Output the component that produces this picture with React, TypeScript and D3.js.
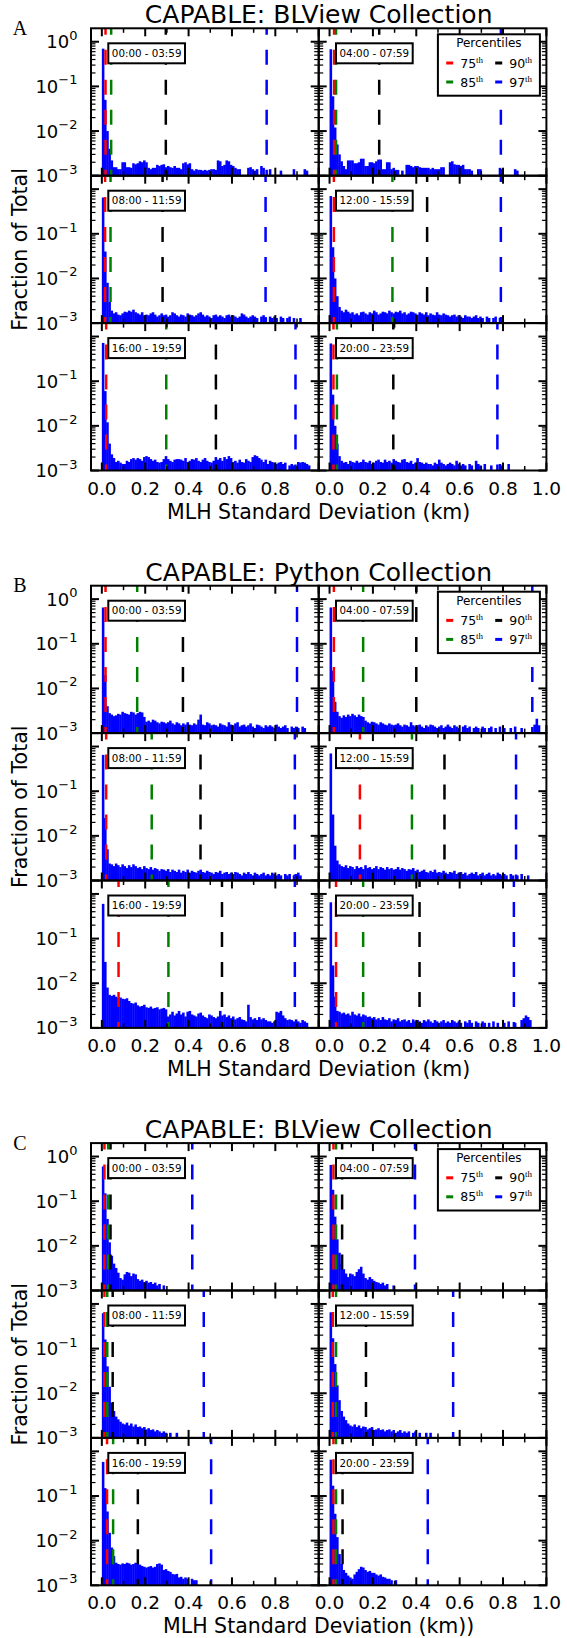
import React from "react";
import * as d3 from "d3";

// layout (px)
const FIG_W = 567;
const FIG_H = 1638;
const plotL = 91;
const plotW = 227.7;
const rowH = 147.4;
const groupTops = [28.3, 585.7, 1143.1];

const groupTitles = ["CAPABLE: BLView Collection", "CAPABLE: Python Collection", "CAPABLE: BLView Collection"];
const groupLetters = ["A", "B", "C"];
const groupXLabels = ["MLH Standard Deviation (km)", "MLH Standard Deviation (km)", "MLH Standard Deviation (km))"];
const timeLabels = ["00:00 - 03:59", "04:00 - 07:59", "08:00 - 11:59", "12:00 - 15:59", "16:00 - 19:59", "20:00 - 23:59"];

const binWidth = 0.01; // km
const percentileNames = ["75", "85", "90", "97"];
const percentileColors = ["#ff0000", "#008000", "#000000", "#0000ff"];

const xTickVals = [0, 0.2, 0.4, 0.6, 0.8, 1.0];
const xMinorVals = [0.1, 0.3, 0.5, 0.7, 0.9];
const xTickLabelsLeft = ["0.0", "0.2", "0.4", "0.6", "0.8"];
const xTickLabelsRight = ["0.0", "0.2", "0.4", "0.6", "0.8", "1.0"];
const yTickVals = [1, 1e-1, 1e-2, 1e-3];
const yTickExps = ["0", "\u22121", "\u22122", "\u22123"];

// histogram fractions, in units of 1e-3, one value per 0.01 km bin
const histA1L = [700, 50, 10, 4, 2.2, 1.55, 1.55, 1.4, 1.4, 2.0, 2.0, 1.55, 1.55, 1.5, 1.9, 1.8, 1.9, 2.1, 2.0, 2.2, 2.0, 1.5, 1.4, 1.5, 1.5, 1.75, 1.65, 1.75, 1.8, 1.55, 1.65, 1.55, 1.5, 1.65, 1.5, 1.5, 1.4, 1.9, 2.0, 1.8, 1.9, 1.4, 1.3, 1.4, 1.35, 1.35, 1.3, 1.35, 1.3, 1.35, 1.4, 1.4, 1.35, 2.2, 2.1, 1.65, 1.75, 2.2, 2.1, 1.75, 1.65, 1.5, 1.4, 1.4, 0, 0, 0, 1.5, 1.55, 1.4, 1.3, 1.4, 0, 1.65, 1.5, 0, 0, 1.4, 0, 0, 0, 0, 1.3, 0, 0, 0, 0, 0, 1.4, 0, 0, 0, 0, 1.4, 1.3];
const histA1R = [680, 60, 12, 5, 3, 2.1, 1.65, 1.4, 2.2, 2.2, 2.2, 1.9, 1.9, 2.0, 2.4, 2.4, 1.65, 1.65, 2.0, 2.0, 1.9, 2.1, 2.3, 2.3, 1.4, 1.4, 2.0, 2.0, 1.4, 1.5, 1.35, 1.35, 0, 1.3, 0, 1.75, 1.75, 1.65, 1.55, 1.65, 1.65, 1.55, 1.5, 1.5, 1.5, 1.5, 1.4, 1.5, 1.4, 1.4, 1.4, 1.55, 1.55, 0, 0, 2.0, 2.1, 1.8, 1.75, 1.75, 1.65, 1.75, 1.4, 1.4, 1.4, 1.3, 0, 0, 1.4, 1.4, 0, 0, 0, 0, 0, 0, 0, 0, 1.5, 1.4, 0, 0, 0, 0, 0, 1.4, 1.3];
const histA2L = [650, 40, 8, 3, 1.9, 1.65, 1.75, 1.55, 1.5, 1.65, 1.8, 1.75, 1.9, 1.8, 2.0, 1.75, 1.65, 1.55, 1.75, 1.5, 1.55, 1.5, 1.65, 1.75, 1.55, 1.4, 1.5, 1.65, 1.5, 1.55, 1.4, 1.5, 1.75, 1.65, 1.5, 1.4, 1.55, 1.5, 1.4, 1.65, 1.55, 1.5, 1.4, 1.5, 1.65, 1.75, 1.55, 1.4, 1.5, 1.4, 1.3, 1.5, 1.55, 1.4, 1.5, 1.4, 1.3, 1.5, 1.55, 1.4, 1.5, 1.4, 1.3, 1.4, 1.65, 1.55, 1.4, 1.3, 1.4, 1.5, 1.4, 1.3, 0, 1.4, 1.5, 1.3, 0, 1.4, 1.3, 1.4, 1.3, 0, 1.4, 1.3, 0, 1.3, 1.4, 0, 1.3, 0, 0, 1.3];
const histA2R = [700, 50, 10, 4, 2.3, 1.9, 1.75, 2.0, 1.8, 1.65, 1.75, 1.55, 1.65, 1.5, 1.75, 1.8, 1.65, 1.55, 1.75, 1.65, 1.9, 1.75, 1.55, 1.65, 1.8, 1.75, 1.65, 1.9, 1.75, 1.65, 1.8, 1.75, 1.9, 1.65, 1.75, 1.55, 1.65, 1.8, 1.75, 1.65, 1.55, 1.75, 1.65, 1.55, 1.75, 1.5, 1.65, 1.55, 1.5, 1.75, 1.55, 1.5, 1.65, 1.55, 1.5, 1.4, 1.5, 1.55, 1.4, 1.5, 1.4, 1.3, 1.5, 1.4, 1.4, 1.3, 1.4, 1.5, 1.3, 1.4, 1.3, 0, 1.4, 1.3, 0, 1.3, 1.4, 0, 1.3, 0];
const histA3L = [720, 60, 12, 4, 2.3, 1.9, 1.55, 1.65, 1.5, 1.4, 1.4, 1.65, 1.55, 1.8, 1.9, 1.75, 1.9, 1.8, 1.65, 2.0, 2.1, 2.0, 1.8, 1.65, 1.75, 1.55, 1.5, 1.55, 1.8, 2.1, 1.8, 1.65, 1.55, 1.75, 1.8, 1.8, 1.75, 1.65, 1.9, 1.55, 1.65, 1.8, 1.75, 1.9, 1.65, 1.55, 1.75, 1.9, 1.65, 1.55, 1.5, 1.65, 2.0, 1.75, 1.9, 1.65, 2.0, 1.8, 2.1, 1.9, 1.55, 1.65, 1.5, 1.75, 1.55, 1.5, 1.8, 1.65, 1.55, 2.0, 2.2, 2.1, 1.9, 1.75, 1.55, 1.75, 1.4, 1.65, 1.55, 1.5, 1.4, 1.5, 1.55, 1.4, 1.5, 0, 1.3, 1.4, 1.3, 0, 1.55, 1.5, 1.55, 1.5, 1.4, 1.3];
const histA3R = [700, 50, 10, 4, 2.1, 1.65, 1.5, 1.55, 1.4, 1.65, 1.55, 1.5, 1.65, 1.5, 1.55, 1.75, 1.55, 1.5, 1.65, 1.4, 1.5, 1.65, 1.75, 1.55, 1.5, 1.75, 1.55, 1.65, 1.5, 1.8, 1.65, 1.55, 1.5, 1.75, 1.8, 1.55, 1.5, 1.65, 1.4, 1.5, 1.9, 1.55, 1.5, 1.4, 1.5, 1.4, 1.4, 1.3, 1.5, 1.4, 1.75, 1.5, 1.4, 1.3, 1.4, 1.5, 1.4, 1.3, 1.65, 1.4, 1.3, 1.4, 1.3, 0, 1.4, 1.3, 0, 1.65, 1.4, 1.3, 0, 1.4, 0, 0, 1.3, 0, 0, 0, 1.4, 1.3, 0, 0, 1.4];

const histB1L = [650, 20, 4, 2.8, 2.6, 2.4, 2.5, 2.7, 2.6, 3.0, 2.8, 2.7, 2.6, 3.0, 2.9, 2.6, 2.8, 3.0, 2.9, 2.3, 1.8, 1.9, 1.75, 2.0, 1.9, 1.75, 1.65, 1.8, 1.75, 1.65, 1.75, 1.9, 1.65, 1.55, 1.75, 1.65, 1.5, 1.65, 1.55, 1.75, 1.55, 1.5, 1.65, 1.55, 2.0, 2.6, 1.55, 1.5, 1.75, 1.65, 1.5, 1.55, 1.5, 1.4, 1.65, 1.55, 1.5, 1.4, 1.75, 1.55, 1.5, 1.65, 1.75, 1.4, 1.5, 1.55, 1.4, 1.5, 1.65, 1.4, 1.3, 1.55, 1.5, 1.4, 1.3, 1.5, 1.4, 1.5, 1.4, 1.3, 1.55, 1.4, 1.3, 1.4, 1.5, 1.3, 0, 1.4, 1.3, 1.4, 1.3, 0, 1.4, 1.3];
const histB1R = [650, 25, 5, 3, 2.4, 2.2, 2.5, 2.3, 2.6, 2.4, 2.7, 2.5, 2.3, 2.6, 2.4, 2.3, 1.9, 1.75, 1.65, 1.8, 1.75, 1.65, 1.55, 1.75, 1.65, 1.55, 1.5, 1.65, 1.55, 1.5, 1.55, 1.65, 1.5, 1.4, 1.55, 1.5, 1.4, 1.75, 1.5, 1.4, 1.5, 1.55, 1.4, 1.3, 1.5, 1.4, 1.55, 1.5, 1.4, 1.3, 1.4, 1.5, 1.3, 1.4, 1.55, 1.4, 1.3, 1.5, 1.4, 1.3, 0, 1.4, 1.5, 1.3, 1.4, 0, 1.3, 1.4, 1.3, 0, 1.4, 1.3, 0, 1.3, 1.4, 0, 1.3, 0, 1.4, 0, 1.3, 0, 0, 1.3, 0, 1.4, 0, 0, 1.3, 0, 0, 0, 0, 0, 1.55, 2.1, 1.5];
const histB2L = [650, 25, 5, 2.4, 2.3, 2.1, 2.4, 2.2, 2.0, 2.3, 2.1, 1.9, 2.2, 2.0, 2.3, 2.1, 1.9, 2.0, 1.8, 2.1, 1.9, 1.8, 2.0, 1.75, 1.9, 1.8, 1.65, 1.8, 1.75, 1.65, 1.8, 1.55, 1.75, 1.65, 1.55, 1.75, 1.5, 1.65, 1.55, 1.75, 1.5, 1.65, 1.55, 1.5, 1.65, 1.75, 1.55, 1.5, 1.65, 1.55, 1.5, 1.4, 1.55, 1.5, 1.65, 1.4, 1.5, 1.55, 1.4, 1.5, 1.4, 1.55, 1.5, 1.4, 1.3, 1.5, 1.4, 1.55, 1.4, 1.3, 1.5, 1.4, 1.3, 1.4, 1.5, 1.3, 1.4, 1.3, 1.5, 1.4, 1.3, 1.4, 1.3, 0, 1.4, 1.3, 1.4, 0, 1.3, 1.4, 1.5, 1.3];
const histB2R = [700, 30, 6, 2.8, 2.3, 2.1, 2.0, 2.2, 1.9, 2.1, 2.0, 1.8, 2.1, 1.9, 2.0, 1.8, 2.2, 1.9, 2.0, 1.8, 1.9, 2.1, 1.8, 2.0, 1.9, 1.75, 2.0, 1.8, 1.9, 1.75, 1.8, 2.0, 1.75, 1.9, 1.8, 1.65, 1.8, 1.75, 1.9, 1.65, 1.75, 1.55, 1.65, 1.75, 1.55, 1.5, 1.65, 1.55, 1.75, 1.5, 1.55, 1.5, 1.65, 1.5, 1.4, 1.55, 1.5, 1.65, 1.4, 1.5, 1.55, 1.4, 1.5, 1.3, 1.4, 1.5, 1.4, 1.55, 1.3, 1.4, 1.5, 1.3, 1.4, 1.5, 1.3, 1.4, 1.3, 1.5, 1.4, 1.3, 1.4, 1.3, 0, 1.4, 1.3, 0, 1.3, 0, 1.4, 0, 0, 1.3];
const histB3L = [600, 30, 8, 5.5, 5.2, 5.5, 5.0, 4.7, 4.8, 4.5, 4.4, 4.6, 4.0, 3.6, 3.5, 3.7, 3.2, 3.0, 3.1, 3.3, 2.9, 2.8, 3.0, 2.7, 2.8, 2.9, 2.6, 2.7, 2.8, 2.6, 1.8, 2.0, 2.3, 1.9, 2.1, 2.4, 2.0, 2.2, 1.8, 2.3, 2.4, 2.0, 1.9, 1.8, 2.1, 2.2, 1.9, 1.75, 1.65, 2.0, 1.9, 1.75, 1.65, 1.8, 2.4, 1.9, 2.0, 1.75, 1.9, 1.65, 1.8, 1.55, 1.65, 1.75, 1.55, 1.5, 1.4, 3.3, 1.75, 1.55, 1.65, 1.5, 1.75, 1.55, 1.65, 1.5, 1.4, 1.4, 1.3, 1.4, 2.3, 2.2, 2.4, 1.9, 1.65, 1.5, 1.55, 1.5, 1.4, 1.55, 1.4, 1.3, 1.5, 1.4, 1.3];
const histB3R = [650, 25, 5, 2.4, 2.3, 2.1, 2.2, 2.0, 2.1, 1.9, 2.3, 2.0, 1.9, 2.1, 1.8, 2.0, 1.9, 1.75, 1.8, 1.65, 1.75, 1.55, 1.65, 1.5, 1.75, 1.55, 1.5, 1.65, 1.4, 1.55, 1.5, 1.65, 1.4, 1.5, 1.55, 1.4, 1.5, 1.3, 1.55, 1.4, 1.5, 1.4, 1.3, 1.5, 1.4, 1.55, 1.4, 1.3, 1.5, 1.4, 1.3, 1.4, 1.5, 1.3, 1.4, 1.3, 1.5, 1.4, 1.3, 1.4, 1.3, 0, 1.4, 1.3, 1.5, 1.3, 0, 1.4, 1.3, 0, 1.4, 1.3, 0, 1.3, 0, 1.4, 0, 1.3, 0, 0, 1.3, 0, 1.4, 0, 0, 1.3, 0, 0, 1.5, 1.65, 1.9, 1.75, 1.5];

const histC1L = [600, 150, 40, 12, 6, 4, 3.2, 2.5, 1.9, 1.75, 2.3, 2.6, 2.5, 2.1, 2.4, 2.3, 1.8, 1.65, 1.75, 1.55, 1.65, 1.5, 1.55, 1.4, 1.5, 1.3, 1.4, 0, 1.3, 0];
const histC1R = [650, 180, 45, 14, 7, 4, 3, 2.4, 2.0, 2.4, 2.3, 2.1, 2.6, 3.0, 3.4, 2.4, 1.9, 1.75, 2.0, 1.8, 1.65, 1.55, 1.5, 1.4, 1.5, 1.3, 1.4, 0, 0, 1.3];
const histC2L = [620, 160, 40, 14, 6, 4, 3, 2.6, 2.3, 2.1, 2.0, 2.2, 1.9, 2.1, 1.8, 2.0, 1.75, 1.8, 1.65, 1.75, 1.55, 1.65, 1.5, 1.55, 1.4, 1.5, 1.4, 1.3, 1.4, 1.3, 0, 1.3, 0, 0, 1.3];
const histC2R = [650, 170, 45, 15, 7, 4, 3, 2.5, 2.1, 1.9, 1.8, 2.0, 1.75, 1.9, 1.65, 1.8, 1.75, 1.55, 1.65, 1.75, 1.5, 1.55, 1.65, 1.5, 1.55, 1.4, 1.5, 1.55, 1.4, 1.5, 1.3, 1.4, 1.5, 1.3, 1.4, 1.3, 1.4, 0, 1.3, 1.4, 0, 1.3, 0, 0, 1.3, 0, 1.3];
const histC3L = [580, 150, 45, 15, 7, 4.5, 3.2, 3.0, 2.9, 3.1, 3.0, 3.2, 3.1, 2.9, 3.0, 3.2, 3.0, 2.9, 2.7, 2.6, 2.5, 2.6, 2.7, 2.5, 2.6, 3.0, 3.1, 2.9, 2.2, 2.3, 2.1, 2.0, 1.8, 1.75, 1.8, 1.5, 1.55, 1.4, 1.5, 1.4, 0, 1.4, 1.3, 1.3];
const histC3R = [650, 170, 40, 12, 5, 3, 2.2, 1.9, 1.65, 1.5, 1.4, 1.75, 2.0, 2.3, 2.6, 2.5, 2.2, 2.0, 2.1, 1.9, 1.9, 1.75, 1.65, 1.75, 1.55, 1.5, 1.4, 1.4, 1.3, 0, 1.3];

// percentile positions (km): 75th, 85th, 90th, 97th
const pctA = [
  [0.017, 0.043, 0.295, 0.76],
  [0.021, 0.03, 0.229, 0.79],
  [0.015, 0.04, 0.28, 0.755],
  [0.02, 0.29, 0.45, 0.79],
  [0.02, 0.297, 0.526, 0.893],
  [0.018, 0.034, 0.294, 0.774],
];
const pctB = [
  [0.017, 0.163, 0.374, 0.9],
  [0.02, 0.155, 0.4, 0.935],
  [0.02, 0.23, 0.455, 0.89],
  [0.14, 0.38, 0.53, 0.86],
  [0.077, 0.307, 0.554, 0.89],
  [0.03, 0.155, 0.415, 0.85],
];
const pctC = [
  [0.012, 0.029, 0.04, 0.417],
  [0.018, 0.03, 0.058, 0.394],
  [0.012, 0.025, 0.05, 0.47],
  [0.015, 0.03, 0.168, 0.57],
  [0.024, 0.052, 0.166, 0.504],
  [0.018, 0.03, 0.06, 0.453],
];

const groupHists = [
  [histA1L, histA1R, histA2L, histA2R, histA3L, histA3R],
  [histB1L, histB1R, histB2L, histB2R, histB3L, histB3R],
  [histC1L, histC1R, histC2L, histC2R, histC3L, histC3R],
];
const groupPcts = [pctA, pctB, pctC];

const SANS = "DejaVu Sans, sans-serif";
const SERIF = "Liberation Serif, DejaVu Serif, serif";

const yMinorVals: number[] = [];
[1e-3, 1e-2, 1e-1, 1].forEach((d) => {
  for (let k = 2; k <= 9; k++) if (k * d < 2) yMinorVals.push(k * d);
});

function Legend({ right, top }) {
  const bw = 102;
  const bh = 61.4;
  const bx = right - 6.5 - bw;
  const by = top + 6;
  const cols = [
    [0, 1],
    [2, 3],
  ];
  return (
    <g>
      <rect x={bx} y={by} width={bw} height={bh} fill="white" stroke="black" strokeWidth={2} />
      <text x={bx + bw / 2} y={by + 13} textAnchor="middle" fontFamily={SANS} fontSize={12}>
        Percentiles
      </text>
      {cols.map((col, ci) =>
        col.map((pi, ri) => {
          const cx = bx + 8.3 + ci * 49;
          const cy = by + 28.7 + ri * 19;
          return (
            <g key={pi}>
              <line x1={cx} x2={cx + 7} y1={cy} y2={cy} stroke={percentileColors[pi]} strokeWidth={3} />
              <text x={cx + 14} y={cy + 4.5} fontFamily={SANS} fontSize={12.5}>
                {percentileNames[pi]}
                <tspan fontFamily={SERIF} fontSize={9} dy={-5}>
                  th
                </tspan>
              </text>
            </g>
          );
        })
      )}
    </g>
  );
}

function Subplot({ left, top, hist, pct, label, col, row, legend }) {
  const x = d3.scaleLinear().domain([-0.05, 1.0]).range([left, left + plotW]);
  const y = d3.scaleLog().domain([1e-3, 2]).range([top + rowH, top]);
  const bottom = top + rowH;
  const right = left + plotW;
  const clipId = `clip-${Math.round(left)}-${Math.round(top)}`;

  const bars = hist
    .map((v, i) => ({ v: v * 1e-3, x0: i * binWidth, x1: (i + 1) * binWidth }))
    .filter((d) => d.v > 1e-3);

  const xLabels = col === 0 ? xTickLabelsLeft : xTickLabelsRight;

  return (
    <g>
      <defs>
        <clipPath id={clipId}>
          <rect x={left} y={top} width={plotW} height={rowH} />
        </clipPath>
      </defs>
      <g clipPath={`url(#${clipId})`}>
        {bars.map((d, i) => (
          <rect
            key={i}
            x={x(d.x0)}
            y={y(d.v)}
            width={x(d.x1) - x(d.x0) + 0.4}
            height={bottom - y(d.v)}
            fill="#0000ff"
          />
        ))}
        {pct.map((p, i) => (
          <line
            key={i}
            x1={x(p)}
            x2={x(p)}
            y1={bottom}
            y2={top}
            stroke={percentileColors[i]}
            strokeWidth={2.5}
            strokeDasharray="15,15"
            strokeDashoffset={9}
          />
        ))}
      </g>

      {/* x ticks, top and bottom, inward */}
      {xTickVals.map((t) => (
        <g key={"xM" + t}>
          <line x1={x(t)} x2={x(t)} y1={bottom} y2={bottom - 8} stroke="black" strokeWidth={2} />
          <line x1={x(t)} x2={x(t)} y1={top} y2={top + 8} stroke="black" strokeWidth={2} />
        </g>
      ))}
      {xMinorVals.map((t) => (
        <g key={"xm" + t}>
          <line x1={x(t)} x2={x(t)} y1={bottom} y2={bottom - 4.5} stroke="black" strokeWidth={1.5} />
          <line x1={x(t)} x2={x(t)} y1={top} y2={top + 4.5} stroke="black" strokeWidth={1.5} />
        </g>
      ))}
      {/* y ticks, left and right, inward */}
      {yTickVals.map((t) => (
        <g key={"yM" + t}>
          <line x1={left} x2={left + 8} y1={y(t)} y2={y(t)} stroke="black" strokeWidth={2} />
          <line x1={right} x2={right - 8} y1={y(t)} y2={y(t)} stroke="black" strokeWidth={2} />
        </g>
      ))}
      {yMinorVals.map((t) => (
        <g key={"ym" + t}>
          <line x1={left} x2={left + 4.5} y1={y(t)} y2={y(t)} stroke="black" strokeWidth={1.2} />
          <line x1={right} x2={right - 4.5} y1={y(t)} y2={y(t)} stroke="black" strokeWidth={1.2} />
        </g>
      ))}

      <rect x={left} y={top} width={plotW} height={rowH} fill="none" stroke="black" strokeWidth={2} />

      {/* time box */}
      <rect x={left + 17.3} y={top + 15} width={76.7} height={20} fill="white" stroke="black" strokeWidth={2} />
      <text x={left + 17.3 + 38.35} y={top + 28.7} textAnchor="middle" fontFamily={SANS} fontSize={10.3}>
        {label}
      </text>

      {legend && <Legend right={right} top={top} />}

      {col === 0 &&
        yTickVals.map((t, i) =>
          row > 0 && t === 1 ? null : (
            <text key={"yl" + t} x={left - 13.5} y={y(t) + 6.5} textAnchor="end" fontFamily={SANS} fontSize={18}>
              10
              <tspan fontSize={13} dy={-8.5}>
                {yTickExps[i]}
              </tspan>
            </text>
          )
        )}
      {row === 2 &&
        xLabels.map((s, i) => (
          <text key={"xl" + s} x={x(xTickVals[i])} y={bottom + 24} textAnchor="middle" fontFamily={SANS} fontSize={18.5}>
            {s}
          </text>
        ))}
    </g>
  );
}

function Group({ gi }) {
  const top = groupTops[gi];
  const mid = plotL + plotW;
  const bottom = top + 3 * rowH;
  const hists = groupHists[gi];
  const pcts = groupPcts[gi];
  return (
    <g>
      <text x={mid} y={top - 5} textAnchor="middle" fontFamily={SANS} fontSize={25}>
        {groupTitles[gi]}
      </text>
      <text x={20} y={top + 6.7} textAnchor="middle" fontFamily={SERIF} fontSize={20}>
        {groupLetters[gi]}
      </text>
      <text
        transform={`translate(27,${top + 1.5 * rowH}) rotate(-90)`}
        textAnchor="middle"
        fontFamily={SANS}
        fontSize={20.5}
      >
        Fraction of Total
      </text>
      {[0, 1, 2, 3, 4, 5].map((k) => {
        const row = Math.floor(k / 2);
        const col = k % 2;
        return (
          <Subplot
            key={k}
            left={plotL + col * plotW}
            top={top + row * rowH}
            hist={hists[k]}
            pct={pcts[k]}
            label={timeLabels[k]}
            col={col}
            row={row}
            legend={k === 1}
          />
        );
      })}
      <text x={mid} y={bottom + 48} textAnchor="middle" fontFamily={SANS} fontSize={20.5}>
        {groupXLabels[gi]}
      </text>
    </g>
  );
}

export default function App() {
  return (
    <svg
      width={FIG_W}
      height={FIG_H}
      viewBox={`0 0 ${FIG_W} ${FIG_H}`}
      style={{ position: "absolute", left: 0, top: 0, background: "white" }}
    >
      <rect x={0} y={0} width={FIG_W} height={FIG_H} fill="white" />
      {[0, 1, 2].map((gi) => (
        <Group key={gi} gi={gi} />
      ))}
    </svg>
  );
}
